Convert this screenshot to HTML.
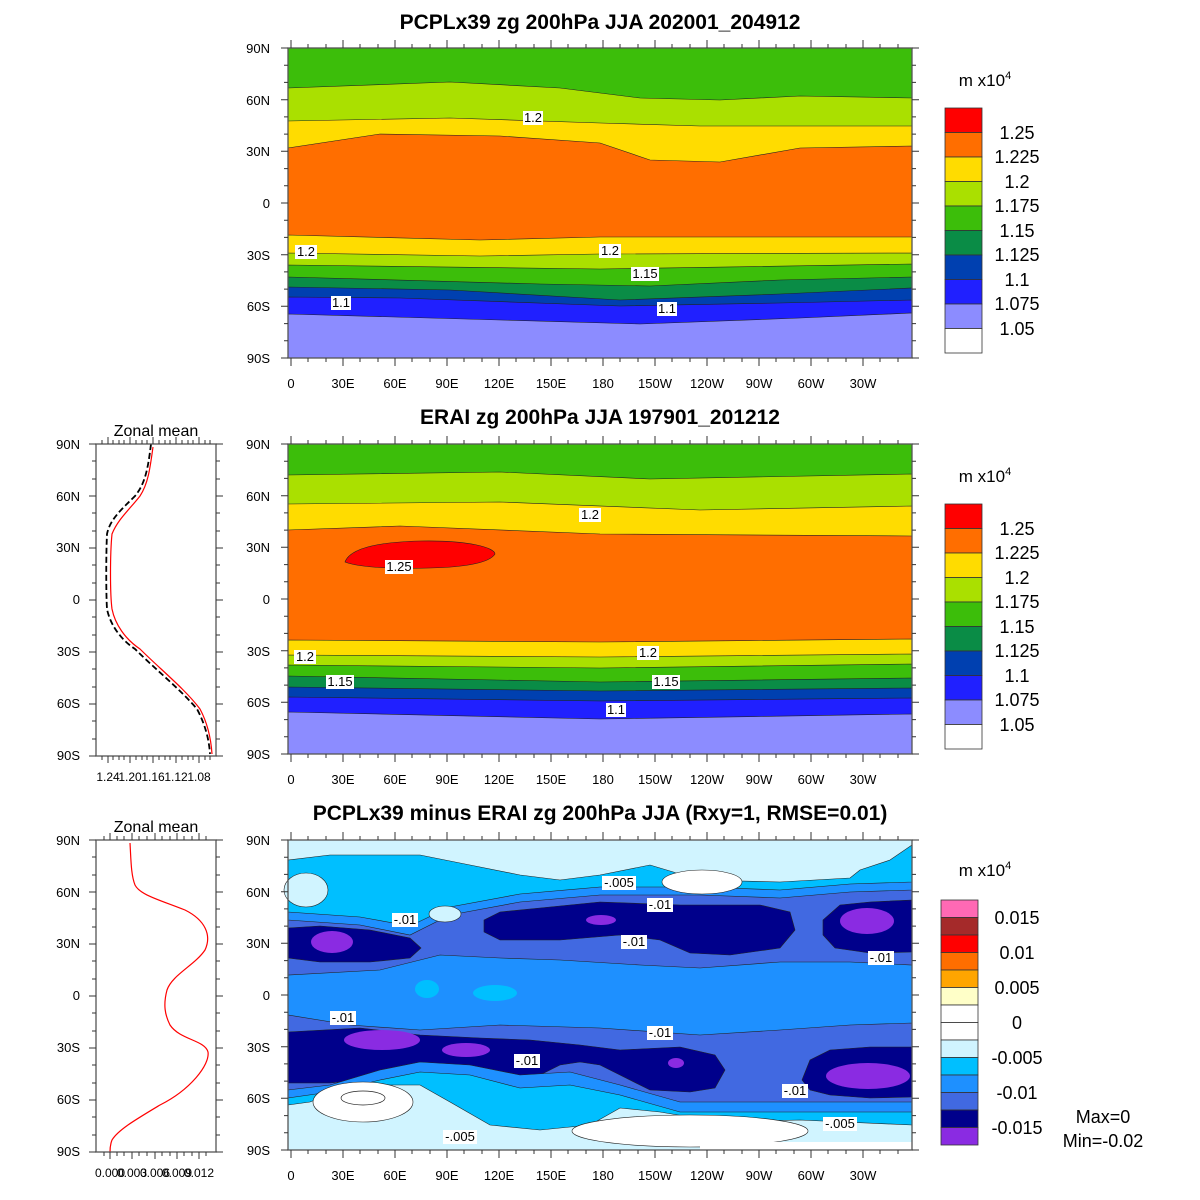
<!DOCTYPE html>
<html><head><meta charset="utf-8"><style>
html,body{margin:0;padding:0;background:#fff;}
svg{display:block;font-family:"Liberation Sans",sans-serif;}
.t{font-size:21px;font-weight:bold;text-anchor:middle;}
.al{font-size:13px;text-anchor:end;}
.ab{font-size:13px;text-anchor:middle;}
.cb{font-size:18px;text-anchor:middle;}
.lb{font-size:13px;text-anchor:middle;}
.ax{fill:none;stroke:#555;stroke-width:1.3;}
.tk{stroke:#333;stroke-width:1;}
.c{stroke:#222;stroke-width:0.6;}
</style></head><body>
<svg width="1200" height="1200" viewBox="0 0 1200 1200" xmlns="http://www.w3.org/2000/svg">
<defs>
<g id="latax">
 <path class="tk" d="M288,0h-7M288,51.7h-7M288,103.3h-7M288,155h-7M288,206.7h-7M288,258.3h-7M288,310h-7M912,0h7M912,51.7h7M912,103.3h7M912,155h7M912,206.7h7M912,258.3h7M912,310h7
 M288,17.2h-4M288,34.4h-4M288,68.9h-4M288,86.1h-4M288,120.6h-4M288,137.8h-4M288,172.2h-4M288,189.4h-4M288,223.9h-4M288,241.1h-4M288,275.6h-4M288,292.8h-4
 M912,17.2h4M912,34.4h4M912,68.9h4M912,86.1h4M912,120.6h4M912,137.8h4M912,172.2h4M912,189.4h4M912,223.9h4M912,241.1h4M912,275.6h4M912,292.8h4"/>
 <path class="tk" d="M291,310v8M343,310v8M395,310v8M447,310v8M499,310v8M551,310v8M603,310v8M655,310v8M707,310v8M759,310v8M811,310v8M863,310v8
 M291,0v-8M343,0v-8M395,0v-8M447,0v-8M499,0v-8M551,0v-8M603,0v-8M655,0v-8M707,0v-8M759,0v-8M811,0v-8M863,0v-8
 M308,310v4M326,310v4M360,310v4M378,310v4M412,310v4M430,310v4M464,310v4M482,310v4M516,310v4M534,310v4M568,310v4M586,310v4M620,310v4M638,310v4M672,310v4M690,310v4M724,310v4M742,310v4M776,310v4M794,310v4M828,310v4M846,310v4M880,310v4M898,310v4
 M308,0v-4M326,0v-4M360,0v-4M378,0v-4M412,0v-4M430,0v-4M464,0v-4M482,0v-4M516,0v-4M534,0v-4M568,0v-4M586,0v-4M620,0v-4M638,0v-4M672,0v-4M690,0v-4M724,0v-4M742,0v-4M776,0v-4M794,0v-4M828,0v-4M846,0v-4M880,0v-4M898,0v-4"/>
</g>
</defs>

<!-- ============ PANEL 1 ============ -->
<text class="t" x="600" y="29">PCPLx39 zg 200hPa JJA 202001_204912</text>
<g transform="translate(0,48)">
 <rect x="288" y="0" width="624" height="310" fill="#3cbe0a"/>
 <path class="c" fill="#aae000" d="M288,310L288,40L450,34L560,40L640,50L720,52L800,48L912,50L912,310Z"/>
 <path class="c" fill="#ffdc00" d="M288,310L288,73L450,70L600,75L700,78L912,78L912,310Z"/>
 <path class="c" fill="#ff6e00" d="M288,310L288,100L380,86L500,88L600,95L650,112L720,114L800,100L912,98L912,310Z"/>
 <path class="c" fill="#ffdc00" d="M288,310L288,187L480,192L600,189L912,189L912,310Z"/>
 <path class="c" fill="#aae000" d="M288,310L288,205L480,208L600,206L912,205L912,310Z"/>
 <path class="c" fill="#3cbe0a" d="M288,310L288,217L600,221L912,216L912,310Z"/>
 <path class="c" fill="#0a8c46" d="M288,310L288,229L540,236L650,238L780,232L912,229L912,310Z"/>
 <path class="c" fill="#0040b0" d="M288,310L288,239L450,242L620,252L780,246L912,240L912,310Z"/>
 <path class="c" fill="#2020ff" d="M288,310L288,249L400,250L620,258L780,255L912,252L912,310Z"/>
 <path class="c" fill="#8c8cff" d="M288,310L288,266L500,272L640,276L800,270L912,265L912,310Z"/>
 <g class="lb">
  <rect x="295" y="197" width="22" height="14" fill="#fff"/><text x="306" y="208">1.2</text>
  <rect x="599" y="196" width="22" height="14" fill="#fff"/><text x="610" y="207">1.2</text>
  <rect x="631" y="219" width="28" height="14" fill="#fff"/><text x="645" y="230">1.15</text>
  <rect x="331" y="248" width="20" height="14" fill="#fff"/><text x="341" y="259">1.1</text>
  <rect x="657" y="254" width="20" height="14" fill="#fff"/><text x="667" y="265">1.1</text>
  <rect x="523" y="63" width="20" height="14" fill="#fff"/><text x="533" y="74">1.2</text>
 </g>
 <rect class="ax" x="288" y="0" width="624" height="310"/>
 <use href="#latax"/>
 <g class="al"><text x="270" y="5">90N</text><text x="270" y="57">60N</text><text x="270" y="108">30N</text><text x="270" y="160">0</text><text x="270" y="212">30S</text><text x="270" y="263">60S</text><text x="270" y="315">90S</text></g>
 <g class="ab"><text x="291" y="340">0</text><text x="343" y="340">30E</text><text x="395" y="340">60E</text><text x="447" y="340">90E</text><text x="499" y="340">120E</text><text x="551" y="340">150E</text><text x="603" y="340">180</text><text x="655" y="340">150W</text><text x="707" y="340">120W</text><text x="759" y="340">90W</text><text x="811" y="340">60W</text><text x="863" y="340">30W</text></g>
</g>
<!-- colorbar 1 -->
<g transform="translate(0,108)">
 <text x="985" y="-22" style="font-size:17px" text-anchor="middle">m x10<tspan dy="-7" font-size="11">4</tspan></text>
 <g stroke="#333" stroke-width="0.8">
 <rect x="945" y="0" width="37" height="24.5" fill="#ff0000"/>
 <rect x="945" y="24.5" width="37" height="24.5" fill="#ff6e00"/>
 <rect x="945" y="49" width="37" height="24.5" fill="#ffdc00"/>
 <rect x="945" y="73.5" width="37" height="24.5" fill="#aae000"/>
 <rect x="945" y="98" width="37" height="24.5" fill="#3cbe0a"/>
 <rect x="945" y="122.5" width="37" height="24.5" fill="#0a8c46"/>
 <rect x="945" y="147" width="37" height="24.5" fill="#0040b0"/>
 <rect x="945" y="171.5" width="37" height="24.5" fill="#2020ff"/>
 <rect x="945" y="196" width="37" height="24.5" fill="#8c8cff"/>
 <rect x="945" y="220.5" width="37" height="24.5" fill="#ffffff"/>
 </g>
 <g class="cb"><text x="1017" y="31">1.25</text><text x="1017" y="55">1.225</text><text x="1017" y="80">1.2</text><text x="1017" y="104">1.175</text><text x="1017" y="129">1.15</text><text x="1017" y="153">1.125</text><text x="1017" y="178">1.1</text><text x="1017" y="202">1.075</text><text x="1017" y="227">1.05</text></g>
</g>

<!-- ============ PANEL 2 ============ -->
<text class="t" x="600" y="424">ERAI zg 200hPa JJA 197901_201212</text>
<g transform="translate(0,444)">
 <rect x="288" y="0" width="624" height="310" fill="#3cbe0a"/>
 <path class="c" fill="#aae000" d="M288,310L288,31L500,28L650,35L912,30L912,310Z"/>
 <path class="c" fill="#ffdc00" d="M288,310L288,60L500,58L700,66L912,62L912,310Z"/>
 <path class="c" fill="#ff6e00" d="M288,310L288,86L400,82L600,90L912,92L912,310Z"/>
 <path class="c" fill="#ff0000" d="M345,118C350,104 380,98 420,97C470,96 495,104 495,110C490,118 470,123 430,124C400,125 360,124 345,118Z"/>
 <path class="c" fill="#ffdc00" d="M288,310L288,196L600,198L912,195L912,310Z"/>
 <path class="c" fill="#aae000" d="M288,310L288,211L600,213L912,210L912,310Z"/>
 <path class="c" fill="#3cbe0a" d="M288,310L288,221L600,224L912,220L912,310Z"/>
 <path class="c" fill="#0a8c46" d="M288,310L288,232L600,238L912,234L912,310Z"/>
 <path class="c" fill="#0040b0" d="M288,310L288,243L600,247L912,244L912,310Z"/>
 <path class="c" fill="#2020ff" d="M288,310L288,253L600,257L912,254L912,310Z"/>
 <path class="c" fill="#8c8cff" d="M288,310L288,268L600,275L912,270L912,310Z"/>
 <g class="lb">
  <rect x="579" y="64" width="22" height="14" fill="#fff"/><text x="590" y="75">1.2</text>
  <rect x="385" y="116" width="28" height="14" fill="#fff"/><text x="399" y="127">1.25</text>
  <rect x="294" y="206" width="22" height="14" fill="#fff"/><text x="305" y="217">1.2</text>
  <rect x="637" y="202" width="22" height="14" fill="#fff"/><text x="648" y="213">1.2</text>
  <rect x="326" y="231" width="28" height="14" fill="#fff"/><text x="340" y="242">1.15</text>
  <rect x="652" y="231" width="28" height="14" fill="#fff"/><text x="666" y="242">1.15</text>
  <rect x="606" y="259" width="20" height="14" fill="#fff"/><text x="616" y="270">1.1</text>
 </g>
 <rect class="ax" x="288" y="0" width="624" height="310"/>
 <use href="#latax"/>
 <g class="al"><text x="270" y="5">90N</text><text x="270" y="57">60N</text><text x="270" y="108">30N</text><text x="270" y="160">0</text><text x="270" y="212">30S</text><text x="270" y="263">60S</text><text x="270" y="315">90S</text></g>
 <g class="ab"><text x="291" y="340">0</text><text x="343" y="340">30E</text><text x="395" y="340">60E</text><text x="447" y="340">90E</text><text x="499" y="340">120E</text><text x="551" y="340">150E</text><text x="603" y="340">180</text><text x="655" y="340">150W</text><text x="707" y="340">120W</text><text x="759" y="340">90W</text><text x="811" y="340">60W</text><text x="863" y="340">30W</text></g>
 <!-- zonal mean 2 -->
 <text x="156" y="-8" style="font-size:16px" text-anchor="middle">Zonal mean</text>
 <path d="M153,3C150,25 148,40 140,52C130,65 118,75 112,90C110,110 110,150 112,165C115,180 125,195 140,205C160,225 185,245 200,265C208,280 211,295 212,310" fill="none" stroke="#f00" stroke-width="1.2"/>
 <path d="M151,0C148,25 145,40 135,52C122,65 110,75 107,90C106,110 106,150 107,165C110,180 120,195 135,205C155,225 180,245 197,265C205,280 209,295 210,310" fill="none" stroke="#000" stroke-width="1.8" stroke-dasharray="6,3"/>
 <rect class="ax" x="96" y="0" width="120" height="312"/>
 <path class="tk" d="M96,0h-7M96,52h-7M96,104h-7M96,156h-7M96,208h-7M96,260h-7M96,312h-7M216,0h7M216,52h7M216,104h7M216,156h7M216,208h7M216,260h7M216,312h7
 M96,17h-4M96,35h-4M96,69h-4M96,87h-4M96,121h-4M96,139h-4M96,173h-4M96,191h-4M96,225h-4M96,243h-4M96,277h-4M96,295h-4
 M216,17h4M216,35h4M216,69h4M216,87h4M216,121h4M216,139h4M216,173h4M216,191h4M216,225h4M216,243h4M216,277h4M216,295h4
 M108,312v7M130,312v7M153,312v7M176,312v7M199,312v7M108,0v-7M130,0v-7M153,0v-7M176,0v-7M199,0v-7
 M102,312v4M113,312v4M119,312v4M124,312v4M136,312v4M142,312v4M147,312v4M159,312v4M165,312v4M170,312v4M182,312v4M188,312v4M193,312v4M205,312v4M210,312v4
 M102,0v-4M113,0v-4M119,0v-4M124,0v-4M136,0v-4M142,0v-4M147,0v-4M159,0v-4M165,0v-4M170,0v-4M182,0v-4M188,0v-4M193,0v-4M205,0v-4M210,0v-4"/>
 <g class="al"><text x="80" y="5">90N</text><text x="80" y="57">60N</text><text x="80" y="108">30N</text><text x="80" y="160">0</text><text x="80" y="212">30S</text><text x="80" y="264">60S</text><text x="80" y="316">90S</text></g>
 <g class="ab" style="font-size:12px"><text x="108" y="337">1.24</text><text x="130" y="337">1.20</text><text x="153" y="337">1.16</text><text x="176" y="337">1.12</text><text x="199" y="337">1.08</text></g>
</g>
<g transform="translate(0,504)">
 <text x="985" y="-22" style="font-size:17px" text-anchor="middle">m x10<tspan dy="-7" font-size="11">4</tspan></text>
 <g stroke="#333" stroke-width="0.8">
 <rect x="945" y="0" width="37" height="24.5" fill="#ff0000"/>
 <rect x="945" y="24.5" width="37" height="24.5" fill="#ff6e00"/>
 <rect x="945" y="49" width="37" height="24.5" fill="#ffdc00"/>
 <rect x="945" y="73.5" width="37" height="24.5" fill="#aae000"/>
 <rect x="945" y="98" width="37" height="24.5" fill="#3cbe0a"/>
 <rect x="945" y="122.5" width="37" height="24.5" fill="#0a8c46"/>
 <rect x="945" y="147" width="37" height="24.5" fill="#0040b0"/>
 <rect x="945" y="171.5" width="37" height="24.5" fill="#2020ff"/>
 <rect x="945" y="196" width="37" height="24.5" fill="#8c8cff"/>
 <rect x="945" y="220.5" width="37" height="24.5" fill="#ffffff"/>
 </g>
 <g class="cb"><text x="1017" y="31">1.25</text><text x="1017" y="55">1.225</text><text x="1017" y="80">1.2</text><text x="1017" y="104">1.175</text><text x="1017" y="129">1.15</text><text x="1017" y="153">1.125</text><text x="1017" y="178">1.1</text><text x="1017" y="202">1.075</text><text x="1017" y="227">1.05</text></g>
</g>

<!-- ============ PANEL 3 ============ -->
<text class="t" x="600" y="820">PCPLx39 minus ERAI zg 200hPa JJA (Rxy=1, RMSE=0.01)</text>
<g transform="translate(0,840)">
 <rect x="288" y="0" width="624" height="310" fill="#1e90ff"/>
 <!-- north -->
 <path class="c" fill="#4169e1" d="M288,0L912,0L912,125L850,122L780,122L700,128L640,125L560,120L500,118L440,115L380,130L288,135Z"/>
 <path class="c" fill="#1e90ff" d="M288,0L912,0L912,50L850,52L780,58L700,55L600,55L520,62L450,75L410,95L360,85L288,80Z"/>
 <path class="c" fill="#00bfff" d="M288,0L912,0L912,42L850,44L780,50L700,47L600,47L520,54L450,67L410,86L360,77L288,72Z"/>
 <path class="c" fill="#d0f4ff" d="M288,0L912,0L912,5L890,20L860,30L850,38L780,42L700,40L650,25L600,35L560,40L520,35L470,25L420,15L330,15L288,20Z"/>
 <ellipse class="c" cx="306" cy="50" rx="22" ry="17" fill="#d0f4ff"/>
 <ellipse class="c" cx="445" cy="74" rx="16" ry="8" fill="#d0f4ff"/>
 <ellipse class="c" cx="702" cy="42" rx="40" ry="12" fill="#fff"/>
 <path class="c" fill="#00008b" d="M288,88L320,86L370,90L410,98L421,108L410,118L370,122L320,122L288,118Z"/>
 <path class="c" fill="#00008b" d="M484,80L500,72L540,68L600,62L680,65L760,65L790,72L795,90L780,108L730,115L690,113L660,100L620,95L560,100L500,100L484,92Z"/>
 <path class="c" fill="#00008b" d="M912,60L870,62L840,65L823,80L823,95L835,108L870,113L912,112Z"/>
 <ellipse cx="332" cy="102" rx="21" ry="11" fill="#8a2be2"/>
 <ellipse cx="601" cy="80" rx="15" ry="5" fill="#8a2be2"/>
 <ellipse cx="867" cy="81" rx="27" ry="13" fill="#8a2be2"/>
 <ellipse cx="427" cy="149" rx="12" ry="9" fill="#00bfff"/>
 <ellipse cx="495" cy="153" rx="22" ry="8" fill="#00bfff"/>
 <!-- south -->
 <path class="c" fill="#4169e1" d="M288,310L288,175L350,185L420,190L500,185L600,188L700,195L780,190L850,185L912,183L912,310Z"/>
 <path class="c" fill="#00008b" d="M288,192L360,188L420,195L480,198L530,200L580,205L620,210L680,207L715,215L725,230L715,248L690,252L650,250L620,235L600,225L580,222L560,225L530,240L500,238L470,225L440,225L400,232L360,240L330,243L288,243Z"/>
 <path class="c" fill="#00008b" d="M802,240L810,220L830,210L870,207L912,207L912,257L870,258L830,255L810,250Z"/>
 <ellipse cx="382" cy="200" rx="38" ry="10" fill="#8a2be2"/>
 <ellipse cx="466" cy="210" rx="24" ry="7" fill="#8a2be2"/>
 <ellipse cx="676" cy="223" rx="8" ry="5" fill="#8a2be2"/>
 <ellipse cx="868" cy="236" rx="42" ry="13" fill="#8a2be2"/>
 <path class="c" fill="#1e90ff" d="M288,310L288,250L330,245L380,230L420,222L470,225L520,235L570,232L620,245L680,262L760,262L912,262L912,310Z"/>
 <path class="c" fill="#00bfff" d="M288,310L288,258L330,252L380,240L420,232L470,235L520,248L570,245L620,255L680,272L760,272L912,272L912,310Z"/>
 <path class="c" fill="#d0f4ff" d="M288,310L288,265L310,262L340,250L380,245L420,245L450,262L490,285L540,290L590,285L620,268L660,272L720,282L800,280L912,285L912,310Z"/>
 <ellipse class="c" cx="363" cy="262" rx="50" ry="20" fill="#fff"/>
 <ellipse cx="363" cy="258" rx="22" ry="7" fill="none" stroke="#222" stroke-width="0.7"/>
 <ellipse class="c" cx="690" cy="291" rx="118" ry="16" fill="#fff"/>
 <rect x="700" y="302" width="212" height="8" fill="#fff"/>
 <g class="lb">
  <rect x="602" y="36" width="34" height="14" fill="#fff"/><text x="619" y="47">-.005</text>
  <rect x="647" y="58" width="26" height="14" fill="#fff"/><text x="660" y="69">-.01</text>
  <rect x="392" y="73" width="26" height="14" fill="#fff"/><text x="405" y="84">-.01</text>
  <rect x="621" y="95" width="26" height="14" fill="#fff"/><text x="634" y="106">-.01</text>
  <rect x="868" y="111" width="26" height="14" fill="#fff"/><text x="881" y="122">-.01</text>
  <rect x="330" y="171" width="26" height="14" fill="#fff"/><text x="343" y="182">-.01</text>
  <rect x="647" y="186" width="26" height="14" fill="#fff"/><text x="660" y="197">-.01</text>
  <rect x="514" y="214" width="26" height="14" fill="#fff"/><text x="527" y="225">-.01</text>
  <rect x="782" y="244" width="26" height="14" fill="#fff"/><text x="795" y="255">-.01</text>
  <rect x="823" y="277" width="34" height="14" fill="#fff"/><text x="840" y="288">-.005</text>
  <rect x="443" y="290" width="34" height="14" fill="#fff"/><text x="460" y="301">-.005</text>
 </g>
 <rect class="ax" x="288" y="0" width="624" height="310"/>
 <use href="#latax"/>
 <g class="al"><text x="270" y="5">90N</text><text x="270" y="57">60N</text><text x="270" y="108">30N</text><text x="270" y="160">0</text><text x="270" y="212">30S</text><text x="270" y="263">60S</text><text x="270" y="315">90S</text></g>
 <g class="ab"><text x="291" y="340">0</text><text x="343" y="340">30E</text><text x="395" y="340">60E</text><text x="447" y="340">90E</text><text x="499" y="340">120E</text><text x="551" y="340">150E</text><text x="603" y="340">180</text><text x="655" y="340">150W</text><text x="707" y="340">120W</text><text x="759" y="340">90W</text><text x="811" y="340">60W</text><text x="863" y="340">30W</text></g>
 <!-- zonal mean 3 -->
 <text x="156" y="-8" style="font-size:16px" text-anchor="middle">Zonal mean</text>
 <path d="M130,3C131,20 131,35 135,45C140,55 160,60 185,70C205,80 212,95 205,110C195,125 172,135 167,150C163,165 165,175 170,185C180,200 205,200 208,212C210,225 190,250 160,265C135,280 118,290 112,300C110,305 110,310 110,312" fill="none" stroke="#f00" stroke-width="1.2"/>
 <rect class="ax" x="96" y="0" width="120" height="312"/>
 <path class="tk" d="M96,0h-7M96,52h-7M96,104h-7M96,156h-7M96,208h-7M96,260h-7M96,312h-7M216,0h7M216,52h7M216,104h7M216,156h7M216,208h7M216,260h7M216,312h7
 M96,17h-4M96,35h-4M96,69h-4M96,87h-4M96,121h-4M96,139h-4M96,173h-4M96,191h-4M96,225h-4M96,243h-4M96,277h-4M96,295h-4
 M216,17h4M216,35h4M216,69h4M216,87h4M216,121h4M216,139h4M216,173h4M216,191h4M216,225h4M216,243h4M216,277h4M216,295h4
 M110,312v7M132,312v7M155,312v7M177,312v7M199,312v7M110,0v-7M132,0v-7M155,0v-7M177,0v-7M199,0v-7
 M104,312v4M117,312v4M124,312v4M139,312v4M147,312v4M162,312v4M170,312v4M184,312v4M192,312v4M206,312v4
 M104,0v-4M117,0v-4M124,0v-4M139,0v-4M147,0v-4M162,0v-4M170,0v-4M184,0v-4M192,0v-4M206,0v-4"/>
 <g class="al"><text x="80" y="5">90N</text><text x="80" y="57">60N</text><text x="80" y="108">30N</text><text x="80" y="160">0</text><text x="80" y="212">30S</text><text x="80" y="264">60S</text><text x="80" y="316">90S</text></g>
 <g class="ab" style="font-size:12px"><text x="110" y="337">0.000</text><text x="132" y="337">0.003</text><text x="155" y="337">0.006</text><text x="177" y="337">0.009</text><text x="199" y="337">0.012</text></g>
</g>
<!-- colorbar 3 -->
<g transform="translate(0,900)">
 <text x="985" y="-24" style="font-size:17px" text-anchor="middle">m x10<tspan dy="-7" font-size="11">4</tspan></text>
 <g stroke="#333" stroke-width="0.8">
 <rect x="941" y="0" width="37" height="17.5" fill="#ff69b4"/>
 <rect x="941" y="17.5" width="37" height="17.5" fill="#a52a2a"/>
 <rect x="941" y="35" width="37" height="17.5" fill="#ff0000"/>
 <rect x="941" y="52.5" width="37" height="17.5" fill="#ff6e00"/>
 <rect x="941" y="70" width="37" height="17.5" fill="#ffa500"/>
 <rect x="941" y="87.5" width="37" height="17.5" fill="#ffffc8"/>
 <rect x="941" y="105" width="37" height="17.5" fill="#ffffff"/>
 <rect x="941" y="122.5" width="37" height="17.5" fill="#ffffff"/>
 <rect x="941" y="140" width="37" height="17.5" fill="#d0f4ff"/>
 <rect x="941" y="157.5" width="37" height="17.5" fill="#00bfff"/>
 <rect x="941" y="175" width="37" height="17.5" fill="#1e90ff"/>
 <rect x="941" y="192.5" width="37" height="17.5" fill="#4169e1"/>
 <rect x="941" y="210" width="37" height="17.5" fill="#00008b"/>
 <rect x="941" y="227.5" width="37" height="17.5" fill="#8a2be2"/>
 </g>
 <g class="cb"><text x="1017" y="24">0.015</text><text x="1017" y="59">0.01</text><text x="1017" y="94">0.005</text><text x="1017" y="129">0</text><text x="1017" y="164">-0.005</text><text x="1017" y="199">-0.01</text><text x="1017" y="234">-0.015</text></g>
 <text x="1103" y="223" style="font-size:18px" text-anchor="middle">Max=0</text>
 <text x="1103" y="247" style="font-size:18px" text-anchor="middle">Min=-0.02</text>
</g>
</svg>
</body></html>
